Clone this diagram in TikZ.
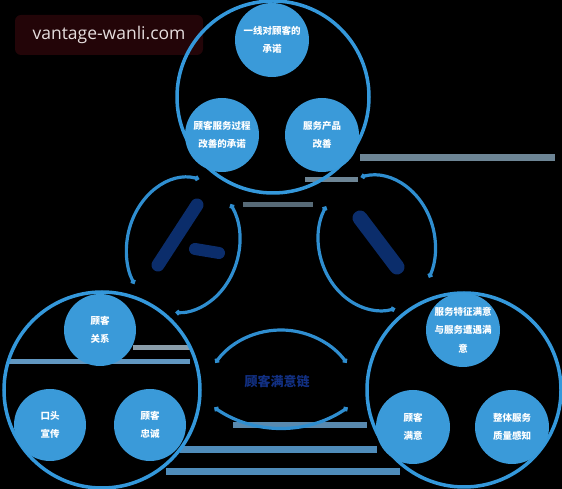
\documentclass[tikz,border=0pt]{standalone}
\usepackage{fontspec}
\newfontfamily\cjk{Noto Sans CJK SC}
\newfontfamily\wmfont{Open Sans}
\usetikzlibrary{arrows.meta}
\definecolor{cblue}{HTML}{3498DB}
\definecolor{fblue}{HTML}{3A9AD9}
\definecolor{ablue}{HTML}{2F8ED0}
\definecolor{navy}{HTML}{0B2D6B}
\definecolor{ctext}{HTML}{123083}
\definecolor{gline}{HTML}{6D8595}
\definecolor{bline}{HTML}{4F8CBA}
\definecolor{wmbg}{HTML}{230508}
\definecolor{wmtext}{HTML}{E6DEDE}
\tikzset{
  bigring/.style={draw=cblue, line width=3.5pt},
  inner/.style={circle, fill=fblue, minimum size=74pt, inner sep=0pt, align=center,
     text=white, font=\cjk\bfseries\fontsize{9.5}{18.5}\selectfont},
  cyc/.style={draw=ablue, line width=3.2pt, {Circle[length=5pt]}-{Circle[length=5pt]}},
  bar/.style={draw=navy, line width=14pt, line cap=round},
  faint/.style={line width=6pt},
}
\begin{document}
\begin{tikzpicture}[x=1pt,y=1pt]
\fill[black] (0,0) rectangle (562,489);
\useasboundingbox (0,0) rectangle (562,489);
% faint horizontal lines
\coordinate (l1a) at (360,331); \coordinate (l1b) at (555,331);
\draw[faint, gline, line width=7pt] (l1a) -- (l1b);
\coordinate (l2a) at (180,39); \coordinate (l2b) at (377,39);
\draw[faint, bline, line width=7pt] (l2a) -- (l2b);
\coordinate (l3a) at (166,17); \coordinate (l3b) at (400,17);
\draw[faint, bline, line width=7pt] (l3a) -- (l3b);
\coordinate (l4a) at (233,64); \coordinate (l4b) at (367,64);
\draw[faint, bline!80!gray] (l4a) -- (l4b);
\coordinate (l5a) at (7,127); \coordinate (l5b) at (190,127);
\draw[faint, bline!90!white, line width=5pt] (l5a) -- (l5b);
\coordinate (l6a) at (243,284); \coordinate (l6b) at (313,284);
\draw[faint, gline!80!black, line width=5pt] (l6a) -- (l6b);
\coordinate (l7a) at (133,141); \coordinate (l7b) at (190,141);
\draw[faint, gline!80!white, line width=5pt] (l7a) -- (l7b);
\coordinate (l8a) at (305,309); \coordinate (l8b) at (358,309);
\draw[faint, gline, line width=5pt] (l8a) -- (l8b);
% watermark
\node[fill=wmbg, rounded corners=6pt, minimum width=188pt, minimum height=40pt,
      text=wmtext, font=\wmfont\fontsize{17.5}{20}\selectfont] (wm) at (109,454) {vantage-wanli.com};
% big rings
\node[bigring, circle, minimum size=192pt] (top) at (273,392) {};
\node[bigring, circle, minimum size=196pt] (bl) at (102,99) {};
\node[bigring, circle, minimum size=194pt] (br) at (464,99) {};
% inner circles
\node[inner] (t1) at (272,449) {一线对顾客的\\承诺};
\node[inner] (t2) at (222,354) {顾客服务过程\\改善的承诺};
\node[inner] (t3) at (322,354) {服务产品\\改善};
\node[inner, minimum size=72pt] (b1) at (100,159) {顾客\\关系};
\node[inner, minimum size=72pt] (b2) at (50,64) {口头\\宣传};
\node[inner, minimum size=72pt] (b3) at (150,64) {顾客\\忠诚};
\node[inner] (r1) at (463,159) {服务特征满意\\与服务遭遇满\\意};
\node[inner] (r2) at (413,62) {顾客\\满意};
\node[inner] (r3) at (512,62) {整体服务\\质量感知};
% left ellipse cycle
\begin{scope}[shift={(183,244)}, rotate=-12]
  \draw[cyc] (88:56 and 68) arc[start angle=88, end angle=225, x radius=56, y radius=68];
  \draw[cyc] (47:56 and 68) arc[start angle=47, end angle=-83, x radius=56, y radius=68];
\end{scope}
% right ellipse cycle
\begin{scope}[shift={(377,246)}, rotate=12]
  \draw[cyc] (92:58 and 68) arc[start angle=92, end angle=-41, x radius=58, y radius=68];
  \draw[cyc] (137:58 and 68) arc[start angle=137, end angle=274, x radius=58, y radius=68];
\end{scope}
% dark bars
\coordinate (lb1) at (197,284); \coordinate (lb2) at (158,224);
\draw[bar, line width=13pt] (lb1) -- (lb2);
\coordinate (lf1) at (195,240); \coordinate (lf2) at (219,236);
\draw[bar, line width=12pt] (lf1) -- (lf2);
\coordinate (rb1) at (360,271); \coordinate (rb2) at (397,222);
\draw[bar, line width=15pt] (rb1) -- (rb2);
% centre cycle
\draw[cyc] (281,77) ++(143:82) arc[start angle=143, end angle=37, radius=82];
\draw[cyc] (281,180) ++(-124:119) arc[start angle=-124, end angle=-56, radius=119];
\node[text=ctext, font=\cjk\bfseries\fontsize{13}{15}\selectfont] (ct) at (277,107) {顾客满意链};
\end{tikzpicture}
\end{document}
